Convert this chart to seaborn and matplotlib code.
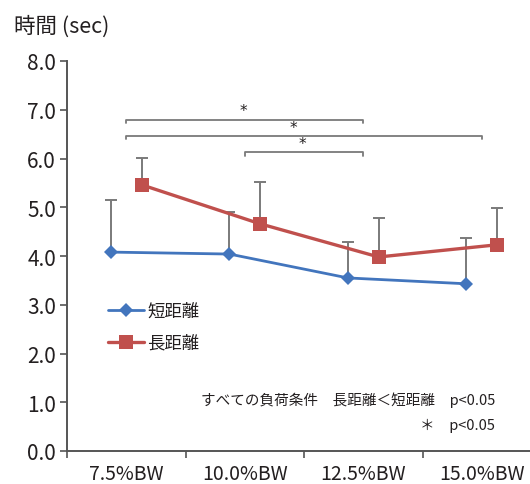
import numpy as np
import pandas as pd
import matplotlib
matplotlib.use("Agg")
import matplotlib.pyplot as plt
import seaborn as sns
from matplotlib.lines import Line2D

categories = ["7.5%BW", "10.0%BW", "12.5%BW", "15.0%BW"]
short_mean = [4.08, 4.04, 3.55, 3.43]
short_sd = [1.07, 0.86, 0.74, 0.94]
long_mean = [5.46, 4.66, 3.98, 4.23]
long_sd = [0.55, 0.86, 0.80, 0.75]
series_names = ["短距離", "長距離"]
sig_pairs = [(0, 2), (0, 3), (1, 2)]
sig_levels = [6.80, 6.46, 6.13]
star_x = [0.985, 1.41, 1.483]
yticks = [0.0, 1.0, 2.0, 3.0, 4.0, 5.0, 6.0, 7.0, 8.0]

sns.set_theme(style="white")
plt.rcParams['font.family'] = ['Noto Sans CJK JP', 'DejaVu Sans']
TXT = "#231f20"
BLUE = "#4275bd"
RED = "#c0504d"
GRAY = "#7a7a7a"

idx = np.arange(len(categories))
offset = 0.13
df = pd.DataFrame({
    "pos": np.concatenate([idx - offset, idx + offset]),
    "value": short_mean + long_mean,
    "group": [series_names[0]] * 4 + [series_names[1]] * 4,
})

fig = plt.figure(figsize=(5.30, 4.85), dpi=100)
ax = fig.add_axes([67 / 530, 1 - 452 / 485, 474 / 530, 390 / 485])

# error bars (upward only)
for m, s, sh in [(short_mean, short_sd, -offset), (long_mean, long_sd, offset)]:
    ax.errorbar(idx + sh, m, yerr=[np.zeros(len(m)), s], fmt="none",
                ecolor=GRAY, elinewidth=1.4, capsize=4, capthick=1.4, zorder=1)

sns.lineplot(data=df, x="pos", y="value", hue="group", style="group",
             palette={series_names[0]: BLUE, series_names[1]: RED},
             markers={series_names[0]: "D", series_names[1]: "s"},
             dashes=False, ax=ax, zorder=3, legend=False,
             markeredgewidth=0)
for ln in ax.get_lines():
    if ln.get_marker() == "D":
        ln.set_markersize(7); ln.set_linewidth(2.0)
    elif ln.get_marker() == "s":
        ln.set_markersize(10); ln.set_linewidth(2.4)

handles = [Line2D([], [], color=BLUE, marker="D", markersize=7, lw=2.0, markeredgewidth=0),
           Line2D([], [], color=RED, marker="s", markersize=10, lw=2.4, markeredgewidth=0)]
leg = ax.legend(handles, series_names, loc="center left", bbox_to_anchor=(0.0865, 0.318),
                frameon=False, fontsize=12.5, handlelength=2.1, handletextpad=0.15,
                labelspacing=0.8, borderpad=0, borderaxespad=0)
for t in leg.get_texts():
    t.set_color(TXT)

# significance brackets
for (a, b), yb, sx in zip(sig_pairs, sig_levels, star_x):
    ax.plot([a, a, b, b], [yb - 0.07, yb, yb, yb - 0.07], color=GRAY, lw=1.3, zorder=2)
    ax.text(sx, yb + 0.03, "*", ha="center", va="bottom", fontsize=11, color=TXT,
            family="DejaVu Sans")

ax.set_xlim(-0.5, 3.5)
ax.set_ylim(0, 8)
ax.set_yticks(yticks)
ax.set_yticklabels([f"{v:.1f}" for v in yticks], fontsize=15, color=TXT)
ax.set_xticks(np.concatenate([[-0.5], idx + 0.5]))
ax.set_xticklabels([])
ax.set_xticks(idx, minor=True)
ax.set_xticklabels(categories, minor=True, fontsize=14, color=TXT)
ax.tick_params(axis="x", which="minor", length=0, pad=9)
ax.tick_params(axis="x", which="major", length=5, width=1.2, color="#555555", direction="out", bottom=True)
ax.tick_params(axis="y", length=5, width=1.2, color="#555555", direction="out", left=True, pad=3)
for side in ["top", "right"]:
    ax.spines[side].set_visible(False)
for side in ["left", "bottom"]:
    ax.spines[side].set_color("#555555")
    ax.spines[side].set_linewidth(1.4)
ax.set_xlabel("")
ax.set_ylabel("")

fig.text(14 / 530, 1 - 27 / 485, "時間 (sec)", fontsize=15.5, color=TXT, va="center", ha="left")
ax.text(3.112, 1.067, "すべての負荷条件　長距離＜短距離　p<0.05", fontsize=10.5, color=TXT,
        ha="right", va="center")
ax.text(3.112, 0.533, "＊　p<0.05", fontsize=10.5, color=TXT, ha="right", va="center")

fig.savefig("out.png", dpi=100)
